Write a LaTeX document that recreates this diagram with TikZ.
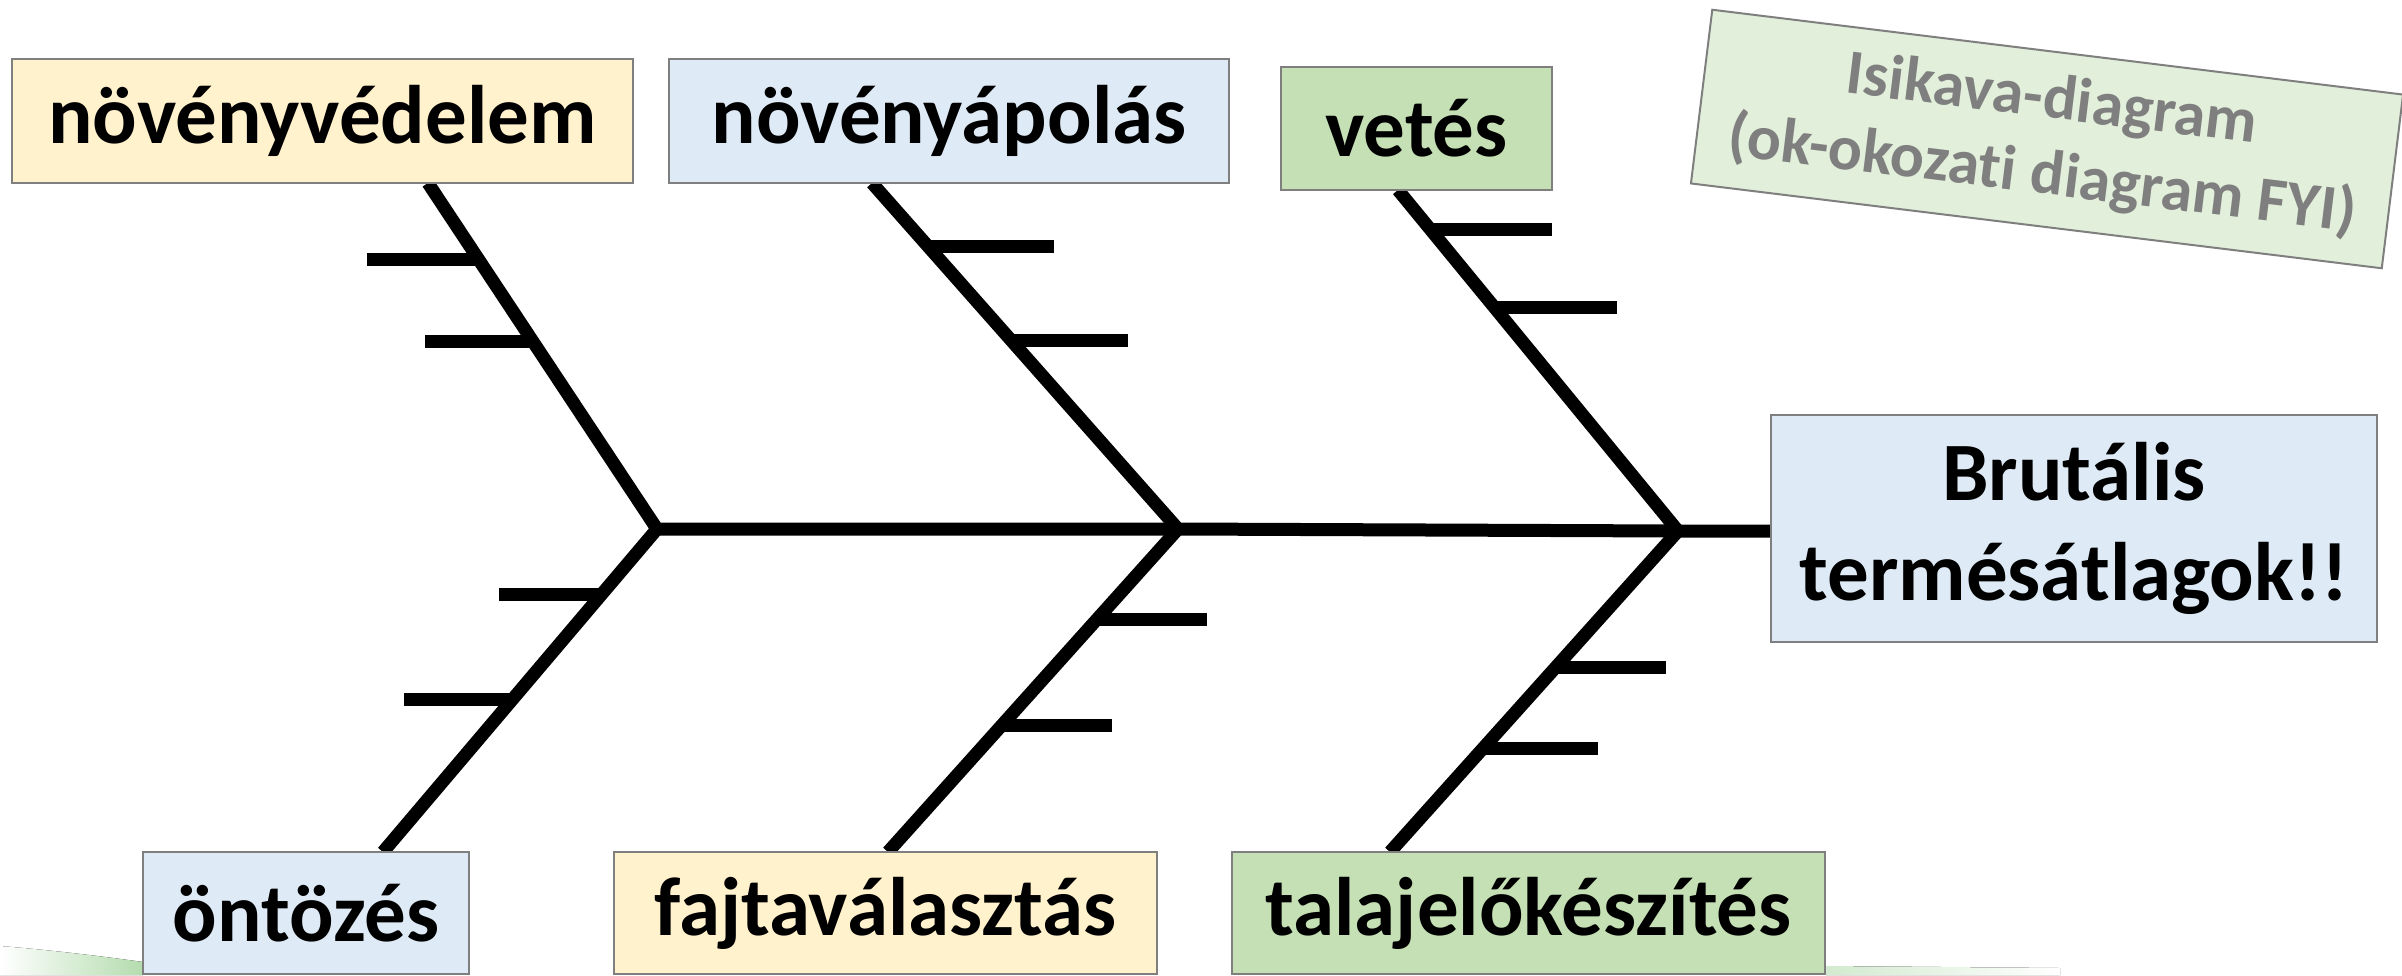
\documentclass[tikz,border=0pt]{standalone}
\usepackage{fontspec}
\setmainfont{Carlito}[Ligatures=NoCommon]
\usetikzlibrary{calc,backgrounds}
\definecolor{boxyellow}{HTML}{FFF2CC}
\definecolor{boxblue}{HTML}{DEEBF7}
\definecolor{boxgreen}{HTML}{C5E0B4}
\definecolor{notegreen}{HTML}{E2EFDA}
\definecolor{edgegray}{HTML}{7F7F7F}
\definecolor{swoosh}{HTML}{B4DCAE}
\begin{document}
\begin{tikzpicture}[x=0.5pt,y=-0.5pt,
  box/.style={draw=edgegray, line width=1pt, rectangle, inner sep=0pt,
    font=\bfseries\fontsize{41.5}{50}\selectfont, align=center},
  bone/.style={line width=6.5pt, black, line join=miter, miter limit=10},
  rib/.style={line width=6.5pt, black},
  spine/.style={line width=6.5pt, black}]
\useasboundingbox (0,0) rectangle (2402,975);
% background decoration
\fill[left color=white, right color=swoosh] (0,946) .. controls (50,950) and (100,956) .. (143,962) -- (143,975) -- (0,975) -- cycle;
\fill[left color=swoosh!60, right color=white] (1826,966) -- (2060,968) -- (2060,975) -- (1826,975) -- cycle;
% boxes
\node[box, fill=boxyellow, minimum width=310.5pt, minimum height=62pt] (nvv) at (322.5,121) {növényvédelem};
\node[box, fill=boxblue, minimum width=280pt, minimum height=62pt] (nap) at (949,121) {növényápolás};
\node[box, fill=boxgreen, minimum width=135.5pt, minimum height=61.5pt] (vet) at (1416.5,128.5) {vetés};
\node[box, fill=boxblue, minimum width=303pt, minimum height=113.5pt] (brut) at (2074,528.5) {Brutális\\termésátlagok!!};
\node[box, fill=boxblue, minimum width=163pt, minimum height=61pt] (ont) at (306,913) {öntözés};
\node[box, fill=boxyellow, minimum width=271.5pt, minimum height=61pt] (faj) at (885.5,913) {fajtaválasztás};
\node[box, fill=boxgreen, minimum width=296.5pt, minimum height=61pt] (tal) at (1528.5,913) {talajelőkészítés};
\node[draw=edgegray, line width=1pt, fill=notegreen, rotate=-7, inner sep=0pt,
  minimum width=348pt, minimum height=87.5pt, text=edgegray, align=center,
  font=\bfseries\fontsize{31.7}{38}\selectfont] (note) at (2047,139) {Isikava-diagram\\(ok-okozati diagram FYI)};
% bone coordinates
\coordinate (T1) at (428,183);
\coordinate (T2) at (872,183);
\coordinate (T3) at (1398,190);
\coordinate (J1) at (657,529);
\coordinate (J2) at (1178,529);
\coordinate (J3) at (1678,531);
\coordinate (B1) at (383,852);
\coordinate (B2) at (888,852);
\coordinate (B3) at (1390,852);
\begin{pgfonlayer}{background}
\draw[spine] (J1) -- (J2) -- (J3) -- (J3 -| brut.west);
\draw[bone] (T1) -- (J1) -- (B1);
\draw[bone] (T2) -- (J2) -- (B2);
\draw[bone] (T3) -- (J3) -- (B3);
% ribs, upper
\draw[rib] ($(T1)!0.2211!(J1)$) -- ++(-111.6,0);
\draw[rib] ($(T1)!0.4581!(J1)$) -- ++(-107.9,0);
\draw[rib] ($(T2)!0.1835!(J2)$) -- ++(125.8,0);
\draw[rib] ($(T2)!0.4566!(J2)$) -- ++(116.3,0);
\draw[rib] ($(T3)!0.1144!(J3)$) -- ++(122,0);
\draw[rib] ($(T3)!0.3460!(J3)$) -- ++(122.1,0);
% ribs, lower
\draw[rib] ($(J1)!0.2028!(B1)$) -- ++(-102.4,0);
\draw[rib] ($(J1)!0.5279!(B1)$) -- ++(-108.4,0);
\draw[rib] ($(J2)!0.2817!(B2)$) -- ++(110.7,0);
\draw[rib] ($(J2)!0.6068!(B2)$) -- ++(110,0);
\draw[rib] ($(J3)!0.4237!(B3)$) -- ++(110,0);
\draw[rib] ($(J3)!0.6760!(B3)$) -- ++(114.7,0);
\end{pgfonlayer}
\end{tikzpicture}
\end{document}
